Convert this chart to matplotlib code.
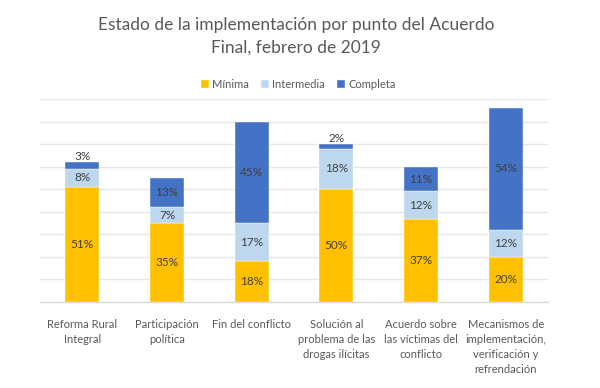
import matplotlib
matplotlib.use("Agg")
import matplotlib.pyplot as plt
import numpy as np

plt.rcParams['font.family'] = ['Lato', 'DejaVu Sans']

categories = ["Reforma Rural\nIntegral", "Participación\npolítica", "Fin del conflicto",
              "Solución al\nproblema de las\ndrogas ilícitas",
              "Acuerdo sobre\nlas víctimas del\nconflicto",
              "Mecanismos de\nimplementación,\nverificación y\nrefrendación"]
minima = [51, 35, 18, 50, 37, 20]
intermedia = [8, 7, 17, 18, 12, 12]
completa = [3, 13, 45, 2, 11, 54]
series_names = ["Mínima", "Intermedia", "Completa"]
colors = ["#FFC000", "#BDD7EE", "#4472C4"]

fig = plt.figure(figsize=(6, 3.88), dpi=100)
ax = fig.add_axes([40/600, 1-302/388, 508/600, 203/388])

x = np.arange(len(categories))
w = 0.4
bottom = np.zeros(len(categories))
txtc = "#404040"
for vals, name, col in zip([minima, intermedia, completa], series_names, colors):
    vals = np.array(vals, dtype=float)
    ax.bar(x, vals, w, bottom=bottom, color=col, label=name, zorder=3,
           edgecolor="white", linewidth=0.3)
    for xi, v, b in zip(x, vals, bottom):
        if v >= 5:
            ax.text(xi, b + v/2, f"{int(v)}%", ha="center", va="center",
                    fontsize=8.5, color=txtc, zorder=4)
        else:
            ax.text(xi, b + v + 2.4, f"{int(v)}%", ha="center", va="center",
                    fontsize=8.5, color=txtc, zorder=4)
    bottom = bottom + vals

ax.set_xlim(-0.5, len(categories) - 0.5)
ax.set_ylim(0, 90)
ax.set_yticks(np.arange(0, 91, 10))
ax.yaxis.grid(True, color="#E6E6E6", linewidth=1, zorder=0)
ax.tick_params(axis="y", left=False, labelleft=False)
ax.tick_params(axis="x", length=0, pad=12)
ax.set_xticks(x)
ax.set_xticklabels(categories, fontsize=8, color="#595959", linespacing=1.45, va="top")
for s in ["top", "right", "left"]:
    ax.spines[s].set_visible(False)
ax.spines["bottom"].set_color("#D9D9D9")
ax.spines["bottom"].set_linewidth(1)

fig.text(0.493, 1-36/388, "Estado de la implementación por punto del Acuerdo\nFinal, febrero de 2019",
         ha="center", va="center", fontsize=12.5, color="#595959", linespacing=1.5)

handles, labels = ax.get_legend_handles_labels()
fig.legend(handles, labels, loc="center", bbox_to_anchor=(0.497, 1-84/388), ncol=3,
           frameon=False, fontsize=8, handlelength=0.7, handleheight=0.7,
           handletextpad=0.3, columnspacing=1.1, labelcolor="#595959")

fig.savefig("out.png", dpi=100)
